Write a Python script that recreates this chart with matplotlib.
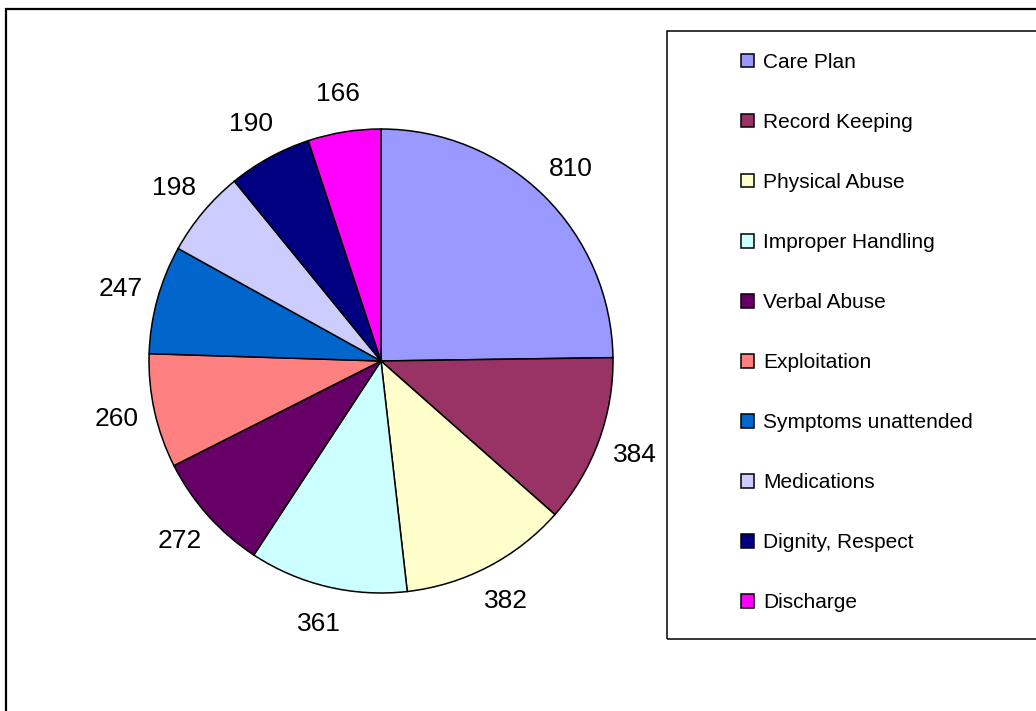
import matplotlib
matplotlib.use('Agg')
import matplotlib.pyplot as plt
from matplotlib.patches import Rectangle

# Complaint categories and counts
categories = ['Care Plan', 'Record Keeping', 'Physical Abuse', 'Improper Handling',
              'Verbal Abuse', 'Exploitation', 'Symptoms unattended', 'Medications',
              'Dignity, Respect', 'Discharge']
counts = [810, 384, 382, 361, 272, 260, 247, 198, 190, 166]
colors = ['#9999FF', '#993366', '#FFFFCC', '#CCFFFF', '#660066',
          '#FF8080', '#0066CC', '#CCCCFF', '#000080', '#FF00FF']

plt.rcParams['font.family'] = ['Liberation Sans', 'DejaVu Sans']

W, H = 1036, 711
fig = plt.figure(figsize=(W / 100, H / 100), dpi=100)
ax = fig.add_axes([0, 0, 1, 1])

# Pie, clockwise from 12 o'clock
wedges, texts = ax.pie(counts, colors=colors, labels=[str(c) for c in counts],
                       startangle=90, counterclock=False,
                       center=(381, H - 361), radius=232, labeldistance=1.165,
                       wedgeprops=dict(edgecolor='black', linewidth=1.1),
                       textprops=dict(fontsize=19))
for t in texts:
    t.set_ha('center')
    t.set_va('center')

# pie() sets its own limits, so fix them afterwards (1 unit = 1 pixel)
ax.set_xlim(0, W)
ax.set_ylim(0, H)
ax.set_aspect('equal')
ax.axis('off')

# Chart area border (right and bottom edges run off the picture)
ax.add_patch(Rectangle((6, -20), W + 20, H - 9 + 20, fill=False,
                       edgecolor='black', linewidth=1.6, clip_on=False))

# Legend box
ax.add_patch(Rectangle((667, H - 639), W, 639 - 31, fill=False,
                       edgecolor='black', linewidth=1.1, clip_on=False))

leg = fig.legend(wedges, categories, loc='upper left',
                 bbox_to_anchor=(741 / W, 1 - 53 / H), frameon=False,
                 fontsize=15, borderpad=0, borderaxespad=0,
                 handlelength=0.62, handleheight=0.62, handletextpad=0.45,
                 labelspacing=1.97)

fig.savefig('out.png', dpi=100)
